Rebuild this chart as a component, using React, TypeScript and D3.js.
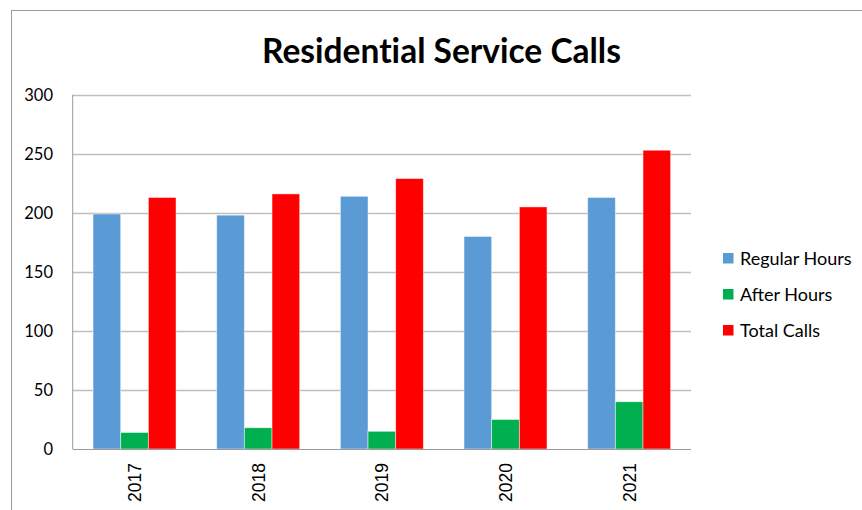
import React, { useEffect, useRef } from 'react';
import * as d3 from 'd3';

// chart data
const years = ['2017', '2018', '2019', '2020', '2021'];
const regularHours = [199, 198, 214, 180, 213];
const afterHours = [14, 18, 15, 25, 40];
const totalCalls = [213, 216, 229, 205, 253];
const seriesNames = ['Regular Hours', 'After Hours', 'Total Calls'];
const yTicks = [0, 50, 100, 150, 200, 250, 300];

const colors = ['#5B9BD5', '#00B050', '#FF0000'];

export default function App() {
  const ref = useRef<SVGSVGElement>(null);

  useEffect(() => {
    const width = 862;
    const height = 510;
    const margin = { left: 72.7, right: 171, top: 94.7, bottom: 61 };

    const svg = d3.select(ref.current);
    svg.selectAll('*').remove();

    // outer frame
    svg.append('rect')
      .attr('x', 11.5).attr('y', 10.5)
      .attr('width', 900).attr('height', 600)
      .attr('fill', '#fff').attr('stroke', '#9a9a9a').attr('stroke-width', 1);

    svg.append('text')
      .attr('x', 441.5).attr('y', 62.5)
      .attr('text-anchor', 'middle')
      .style('font-family', 'Lato, sans-serif')
      .style('font-weight', 700)
      .style('font-size', '33.5px')
      .style('font-variant-ligatures', 'none')
      .text('Residential Service Calls');

    const x = d3.scaleBand()
      .domain(years)
      .range([margin.left, width - margin.right]);
    const xInner = d3.scaleBand()
      .domain(seriesNames)
      .range([0, x.bandwidth()])
      .paddingOuter(0.735);
    const y = d3.scaleLinear()
      .domain([0, 300])
      .range([height - margin.bottom, margin.top]);

    // gridlines
    svg.append('g')
      .selectAll('line')
      .data(yTicks.filter(d => d > 0))
      .enter()
      .append('line')
      .attr('x1', margin.left).attr('x2', width - margin.right)
      .attr('y1', d => Math.round(y(d)) + 0.5).attr('y2', d => Math.round(y(d)) + 0.5)
      .attr('stroke', '#bfbfbf').attr('stroke-width', 1.5);

    // y labels
    svg.append('g')
      .selectAll('text')
      .data(yTicks)
      .enter()
      .append('text')
      .attr('x', 53)
      .attr('y', d => y(d) + 6)
      .attr('text-anchor', 'end')
      .style('font-family', 'Lato, sans-serif')
      .style('font-size', '16.5px')
      .text(d => d);

    const data = [regularHours, afterHours, totalCalls];
    const groups = svg.append('g')
      .selectAll('g')
      .data(years)
      .enter()
      .append('g')
      .attr('transform', d => 'translate(' + x(d) + ',0)');

    groups.selectAll('rect')
      .data((d, i) => data.map((s, j) => ({ key: seriesNames[j], value: s[i], idx: j })))
      .enter()
      .append('rect')
      .attr('x', d => xInner(d.key)!)
      .attr('width', xInner.bandwidth())
      .attr('y', d => y(d.value))
      .attr('height', d => y(0) - y(d.value))
      .attr('fill', d => colors[d.idx])
      .attr('stroke', 'rgba(255,255,255,0.6)')
      .attr('stroke-width', 0.8);

    // axis lines
    svg.append('line')
      .attr('x1', margin.left).attr('x2', margin.left)
      .attr('y1', margin.top).attr('y2', y(0))
      .attr('stroke', '#9a9a9a').attr('stroke-width', 1);
    svg.append('line')
      .attr('x1', margin.left).attr('x2', width - margin.right)
      .attr('y1', y(0) + 0.5).attr('y2', y(0) + 0.5)
      .attr('stroke', '#9a9a9a').attr('stroke-width', 1.2);

    // x labels, rotated
    svg.append('g')
      .selectAll('text')
      .data(years)
      .enter()
      .append('text')
      .attr('transform', d => 'translate(' + (x(d)! + x.bandwidth() / 2 + 6.5) + ',502) rotate(-90)')
      .style('font-family', '"Liberation Sans", Arial, sans-serif')
      .style('font-size', '17.5px')
      .text(d => d);

    // legend
    const legend = svg.append('g')
      .selectAll('g')
      .data(seriesNames)
      .enter()
      .append('g')
      .attr('transform', (d, i) => 'translate(723,' + (258 + i * 36) + ')');
    legend.append('rect')
      .attr('x', 0).attr('y', -5)
      .attr('width', 10.5).attr('height', 10.5)
      .attr('fill', (d, i) => colors[i]);
    legend.append('text')
      .attr('x', 17).attr('y', 6.5)
      .style('font-family', 'Lato, sans-serif')
      .style('font-size', '18px')
      .text(d => d);
  }, []);

  return (
    <svg ref={ref} width={862} height={510}
      style={{ position: 'absolute', left: 0, top: 0, background: '#fff' }} />
  );
}
